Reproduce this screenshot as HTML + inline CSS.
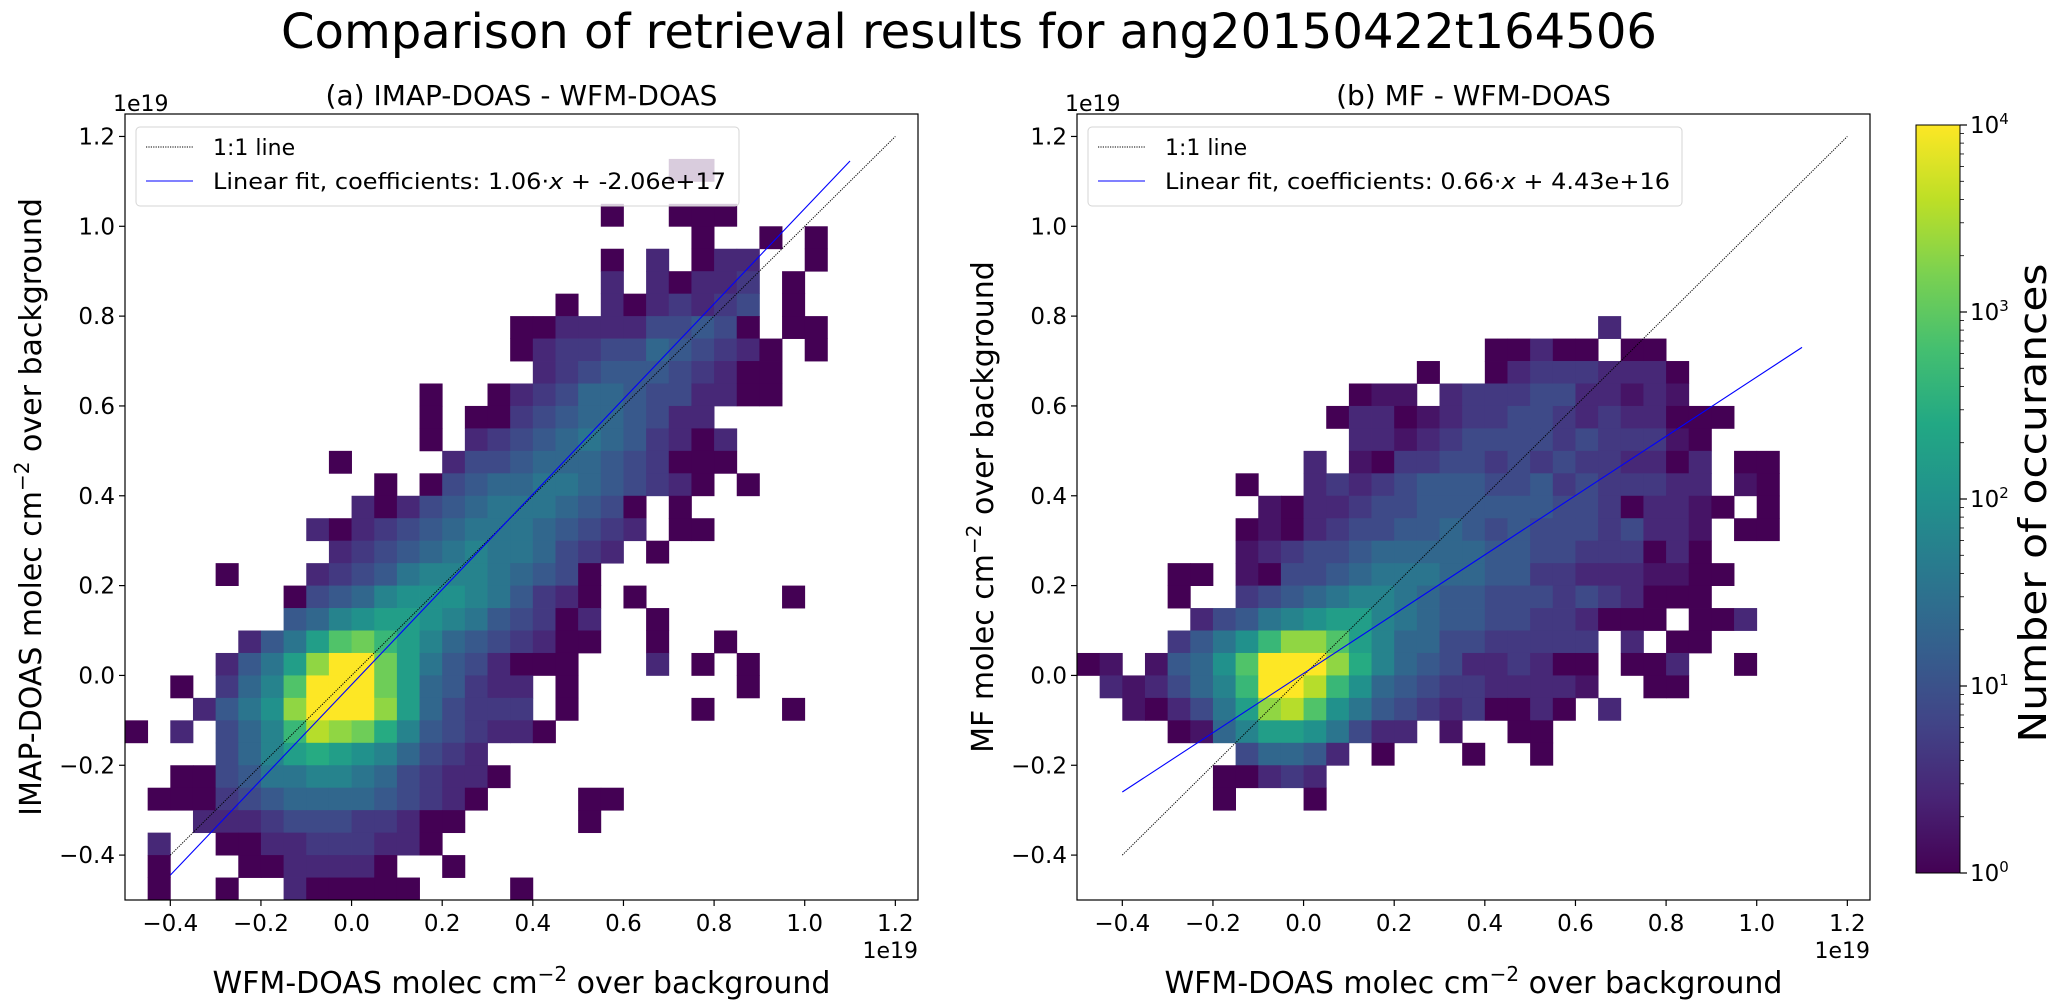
<!DOCTYPE html>
<html><head><meta charset="utf-8"><style>
html,body{margin:0;padding:0;background:#fff;}
svg{display:block;font-family:"DejaVu Sans","Liberation Sans",sans-serif;}
</style></head><body>
<svg id="fig" width="2067" height="1008" viewBox="0 0 2067 1008" xmlns="http://www.w3.org/2000/svg">
<defs>
<linearGradient id="vir" x1="0" y1="1" x2="0" y2="0">
<stop offset="0" stop-color="#440154"/><stop offset="0.1" stop-color="#482475"/><stop offset="0.2" stop-color="#414487"/><stop offset="0.3" stop-color="#355f8d"/><stop offset="0.4" stop-color="#2a788e"/><stop offset="0.5" stop-color="#21918c"/><stop offset="0.6" stop-color="#22a884"/><stop offset="0.7" stop-color="#44bf70"/><stop offset="0.8" stop-color="#7ad151"/><stop offset="0.9" stop-color="#bddf26"/><stop offset="1" stop-color="#fde725"/>
</linearGradient>
</defs>
<text x="969" y="48" font-size="48" text-anchor="middle" textLength="1376" lengthAdjust="spacingAndGlyphs">Comparison of retrieval results for ang20150422t164506</text>
<g id="plots"></g>
<g id="cbar">
<rect x="1916" y="125" width="44" height="748" fill="url(#vir)" stroke="#000" stroke-width="1"/>
</g>
<text transform="translate(2046,503) rotate(-90)" font-size="38" text-anchor="middle" textLength="479" lengthAdjust="spacingAndGlyphs">Number of occurances</text>
</svg>
<script>
// ---------- data ----------
const xTicks = [-0.4,-0.2,0.0,0.2,0.4,0.6,0.8,1.0,1.2];
const yTicks = [-0.4,-0.2,0.0,0.2,0.4,0.6,0.8,1.0,1.2];
const cbarTicks = [0,1,2,3,4];
const binWidth = 0.05;
const binOrigin = -0.5;
// rows top (1.25) to bottom (-0.5); "col:level" where log10(count)=level*4/9
const gridA = [
"","","24:0 25:0","",
"21:0 24:0 25:0 26:0",
"25:0 28:0 30:0",
"21:0 23:1 25:0 26:1 27:1 30:0",
"21:1 23:1 24:0 25:1 26:1 27:1.5 29:0",
"19:0 21:1 22:0 23:1 24:1.5 25:1 26:1.5 27:2 29:0",
"17:0 18:0 19:1 20:1 21:1 22:1 23:2 24:2 25:2.5 26:2 27:0 29:0 30:0",
"17:0 18:1 19:1.5 20:1.5 21:2 22:2 23:3 24:2.5 25:2 26:1.5 27:1 28:0 30:0",
"18:1 19:1.5 20:2 21:2.5 22:2.5 23:2.5 24:2 25:1.5 26:1 27:0 28:0",
"13:0 16:0 17:1 18:1.5 19:2 20:3 21:3 22:2.5 23:2 24:2 25:1 26:1 27:0 28:0",
"13:0 15:0 16:0 17:1.5 18:2 19:2.5 20:3 21:3 22:2.5 23:2 24:1 25:1",
"13:0 15:1 16:1.5 17:2 18:2.5 19:3 20:3.5 21:3 22:2.5 23:1.5 24:1 25:0 26:1",
"9:0 14:1 15:2 16:2 17:2.5 18:3 19:3 20:3 21:2.5 22:2 23:1.5 24:0 25:0 26:0",
"11:0 13:0 14:2 15:2.5 16:3 17:3 18:3.5 19:3.5 20:3 21:2.5 22:2 23:1.5 24:1 25:0 27:0",
"10:1 11:0 12:1 13:2 14:2.5 15:3 16:3.5 17:3.5 18:3.5 19:3 20:2.5 21:2 22:0 24:0",
"8:1 9:0 10:1 11:1.5 12:2 13:2.5 14:3 15:3.5 16:3.5 17:3.5 18:3 19:2.5 20:2 21:1.5 22:1 24:0 25:0",
"9:1 10:1.5 11:2 12:2.5 13:3 14:3.5 15:4 16:3.5 17:3.5 18:3 19:2 20:1.5 21:1 23:0",
"4:0 8:1 9:1.5 10:2 11:2.5 12:3.5 13:4 14:4 15:4 16:3.5 17:3 18:2.5 19:2 20:0",
"7:0 8:2 9:2.5 10:3 11:4 12:4.5 13:4.5 14:4.5 15:4 16:3.5 17:2.5 18:1.5 19:1 20:0 22:0 29:0",
"7:2.5 8:3 9:4 10:4.5 11:5 12:5 13:4.5 14:4 15:3.5 16:2.5 17:2 18:1.5 19:0 20:1 23:0",
"5:1 6:2.5 7:3.5 8:5 9:6.5 10:7 11:6 12:5 13:4 14:3 15:2.5 16:2 17:1.5 18:1 19:0 20:0 23:0 26:0",
"4:1 5:2.5 6:3.5 7:5 8:7.5 9:9 10:9 11:7 12:5 13:3.5 14:2.5 15:2 16:1 17:0 18:0 19:0 23:1 25:0 27:0",
"2:0 4:1.5 5:3 6:4 7:6.5 8:9 9:9 10:9 11:7 12:5 13:3 14:2.5 15:1.5 16:1 17:1 19:0 27:0",
"3:1 4:2.5 5:3.5 6:4.5 7:7.5 8:9 9:9 10:9 11:7.5 12:5 13:3 14:2 15:1.5 16:1.5 17:1.5 19:0 25:0 29:0",
"0:0 2:1 4:2 5:3 6:4 7:6 8:8 9:7.5 10:7 11:5.5 12:4 13:2.5 14:2 15:1.5 16:1 17:1 18:0",
"4:2 5:3 6:4 7:5 8:5.5 9:5 10:4.5 11:4 12:3 13:2 14:1.5 15:1",
"2:0 3:0 4:2 5:2.5 6:3.5 7:3.5 8:4 9:4 10:3.5 11:3 12:2 13:1.5 14:1 15:1 16:0",
"1:0 2:0 3:0 4:1.5 5:2 6:2.5 7:3 8:3 9:3 10:3 11:2.5 12:2 13:1.5 14:1 15:0 20:0 21:0",
"3:1 4:1 5:1 6:1.5 7:2 8:2 9:2 10:1.5 11:1.5 12:1 13:0 14:0 20:0",
"1:1 4:0 5:0 6:1 7:1 8:1.5 9:1.5 10:1.5 11:1 12:1 13:0",
"1:0 5:0 6:0 7:1 8:1 9:1 10:1 11:0 14:0",
"1:0 4:0 7:1 8:0 9:0 10:0 11:0 12:0 17:0"
];
const gridB = [
"","","","","","","","","",
"23:1",
"18:0 19:0 20:1 21:0 22:0 24:0 25:0",
"15:0 18:0 19:1 20:1.5 21:1.5 22:1.5 23:1 24:1 25:1 26:0",
"12:0 13:0.5 14:0.5 16:1 17:1.5 18:1.5 19:1.5 20:2 21:2 22:1 23:1 24:0.5 25:1 26:0.5",
"11:0 12:1 13:1 14:0 15:0.5 16:1 17:1.5 18:1.5 19:2 20:2 21:1.5 22:1 23:1.5 24:1 25:1 26:0 27:0 28:0",
"12:1 13:1 14:0.5 15:1 16:1.5 17:2 18:2 19:2 20:2 21:1.5 22:2 23:1.5 24:1.5 25:1.5 26:0.5 27:0",
"10:1 12:0.5 13:0 14:1.5 15:1.5 16:2 17:2 18:1.5 19:2 20:1.5 21:2 22:1.5 23:1.5 24:1 25:1 26:0 27:1 29:0 30:0",
"7:0 10:1 11:1.5 12:1 13:1.5 14:2 15:2.5 16:2.5 17:2.5 18:2 19:2 20:2.5 21:1.5 22:2 23:1.5 24:1.5 25:1.5 26:1 27:1 29:0.5 30:0",
"8:0.5 9:0 10:1 11:1 12:1.5 13:2 14:2 15:2.5 16:2.5 17:2.5 18:2.5 19:2.5 20:2.5 21:2 22:2 23:1.5 24:0 25:1 26:1 27:0.5 28:0 30:0",
"7:0 8:0.5 9:0 10:1 11:1.5 12:2 13:2 14:2.5 15:2.5 16:3 17:2.5 18:2 19:2.5 20:2 21:2 22:2 23:1.5 24:2 25:1 26:1 27:0.5 29:0 30:0",
"7:0.5 8:1 9:1.5 10:2 11:2 12:2.5 13:3 14:3 15:3 16:3 17:3 18:2.5 19:2.5 20:2 21:2 22:1.5 23:1.5 24:1.5 25:0 26:1 27:0",
"4:0 5:0 7:0.5 8:0 9:2 10:2 11:2.5 12:3 13:3.5 14:3.5 15:3.5 16:3 17:3 18:2.5 19:2.5 20:1.5 21:1.5 22:1 23:1 24:1 25:0.5 26:0.5 27:0 28:0",
"4:0 7:1.5 8:2 9:2.5 10:3 11:3.5 12:4 13:4 14:3.5 15:3 16:2.5 17:2.5 18:2 19:2 20:2 21:1.5 22:2 23:1.5 24:1 25:0 26:0 27:0",
"5:1 6:2 7:2.5 8:3.5 9:4 10:4.5 11:5 12:5 13:4 14:3.5 15:3 16:2.5 17:2.5 18:2 19:2 20:1.5 21:1.5 22:1 23:0 24:0 25:0 27:0 28:0 29:1",
"4:1.5 5:2.5 6:3.5 7:4.5 8:6 9:7.5 10:7.5 11:6.5 12:5 13:4 14:3 15:3 16:2 17:2 18:1.5 19:1.5 20:1.5 21:1.5 22:1.5 24:1 26:0 27:0",
"0:0 1:0.5 3:0.5 4:2.5 5:3 6:4.5 7:6.5 8:9 9:9 10:9 11:7.5 12:5.5 13:4 14:3 15:2.5 16:2 17:1 18:1 19:1.5 20:1 21:0 22:0 24:0 25:0 26:1 29:0",
"1:1 2:0.5 3:1 4:2 5:3 6:4 7:6 8:9 9:9 10:8 11:6 12:4.5 13:3 14:2.5 15:2 16:1.5 17:1.5 18:1 19:1 20:1 21:1 22:0.5 25:0 26:0",
"2:0.5 3:0 4:1 5:2 6:3.5 7:5 8:7.5 9:8 10:6.5 11:4.5 12:3.5 13:2.5 14:2 15:1.5 16:1 17:1.5 18:0 19:0 20:1 21:0 23:1",
"4:0 5:0.5 6:3 7:4 8:5 9:5 10:4.5 11:3.5 12:2 13:1 14:1 16:0.5 19:0 20:0",
"7:2 8:3 9:3 10:2.5 11:1 13:0 17:0 20:0",
"6:0 7:0 8:1 9:1.5 10:1",
"6:0 10:0"
];
const fitA = {slope:1.06, intercept:-0.0206};
const fitB = {slope:0.66, intercept:0.00443};
const lineRange = [-0.4, 1.2];
const fitRange = [-0.4, 1.1];

// ---------- helpers ----------
const NS = "http://www.w3.org/2000/svg";
const VIR = ["#440154","#482475","#414487","#355f8d","#2a788e","#21918c","#22a884","#44bf70","#7ad151","#bddf26","#fde725"];
function hex(h){return [parseInt(h.slice(1,3),16),parseInt(h.slice(3,5),16),parseInt(h.slice(5,7),16)];}
function viridis(t){t=Math.max(0,Math.min(1,t));const s=t*10,i=Math.min(9,Math.floor(s)),f=s-i;const a=hex(VIR[i]),b=hex(VIR[i+1]);
 return "rgb("+a.map((v,k)=>Math.round(v+(b[k]-v)*f)).join(",")+")";}
function mk(tag,attrs,parent){const e=document.createElementNS(NS,tag);for(const k in attrs)e.setAttribute(k,attrs[k]);parent.appendChild(e);return e;}
function fmt(v){const s=v.toFixed(1);return v<0?"\u2212"+s.slice(1):s;}

const plots = document.getElementById("plots");
function drawPlot(cfg){
 const {x0,y0,w,h,grid,fit,ylabel,title,legendText,legendBox,id} = cfg;
 const X = v => x0 + (v+0.5)/1.75*w;
 const Y = v => y0 + (1.25-v)/1.75*h;
 const g = mk("g",{},plots);
 
 
 const cl = mk("clipPath",{id:id+"clip"},g); mk("rect",{x:x0,y:y0,width:w,height:h},cl);
 const cells = mk("g",{"clip-path":"url(#"+id+"clip)"},g);
 
 
 grid.forEach((row,r)=>{
  if(!row) return;
  row.split(" ").forEach(p=>{
   const [c,l]=p.split(":").map(Number);
   const count=Math.pow(10,l*4/9);
   const xa=binOrigin+c*binWidth, yt=1.25-r*binWidth;
   const rc=mk("rect",{x:X(xa).toFixed(2),y:Y(yt).toFixed(2),width:(X(xa+binWidth)-X(xa)+0.4).toFixed(2),height:(Y(yt-binWidth)-Y(yt)+0.4).toFixed(2),fill:viridis(Math.log10(count)/4)},cells);
   
   
  });
 });
 const l1=mk("line",{x1:X(lineRange[0]),y1:Y(lineRange[0]),x2:X(lineRange[1]),y2:Y(lineRange[1]),stroke:"#000","stroke-width":1,"stroke-dasharray":"1.2,1.2"},g);
 
 
 const f=x=>fit.slope*x+fit.intercept;
 const l2=mk("line",{x1:X(fitRange[0]),y1:Y(f(fitRange[0])),x2:X(fitRange[1]),y2:Y(f(fitRange[1])),stroke:"#0000ff","stroke-width":1.1},g);
 
 
 const fr=mk("rect",{x:x0,y:y0,width:w,height:h,fill:"none",stroke:"#000","stroke-width":1.2},g);
 
 
 xTicks.forEach(v=>{
  mk("line",{x1:X(v),y1:y0+h,x2:X(v),y2:y0+h+6,stroke:"#000","stroke-width":1.2},g);
  const t=mk("text",{x:X(v),y:y0+h+31,"font-size":23,"text-anchor":"middle"},g); t.textContent=fmt(v);
  
  
 });
 yTicks.forEach(v=>{
  mk("line",{x1:x0,y1:Y(v),x2:x0-6,y2:Y(v),stroke:"#000","stroke-width":1.2},g);
  const t=mk("text",{x:x0-10,y:Y(v)+8,"font-size":23,"text-anchor":"end"},g); t.textContent=fmt(v);
  
  
 });
 const e1=mk("text",{x:x0-12,y:y0-3,"font-size":22},g); e1.textContent="1e19";
 
 
 const e2=mk("text",{x:x0+w,y:y0+h+58,"font-size":22,"text-anchor":"end"},g); e2.textContent="1e19";
 
 
 const tt=mk("text",{x:x0+w/2,y:105,"font-size":28,"text-anchor":"middle"},g); tt.textContent=title;
 
 
 const xl=mk("text",{x:x0+w/2,y:993,"font-size":30,"text-anchor":"middle"},g);
 xl.innerHTML='WFM-DOAS molec cm<tspan baseline-shift="super" font-size="20">\u22122</tspan> over background';
 
 
 const yl=mk("text",{transform:"translate("+(x0-84)+","+(y0+h/2)+") rotate(-90)","font-size":30,"text-anchor":"middle"},g);
 yl.innerHTML=ylabel+' molec cm<tspan baseline-shift="super" font-size="20">\u22122</tspan> over background';
 
 
 const lg=mk("g",{},g);
 
 
 mk("rect",{x:legendBox[0],y:127,width:legendBox[1]-legendBox[0],height:79,rx:4,fill:"rgba(255,255,255,0.8)",stroke:"#d5d5d5","stroke-width":1},lg);
 mk("line",{x1:legendBox[0]+10,y1:147,x2:legendBox[0]+57,y2:147,stroke:"#000","stroke-width":1,"stroke-dasharray":"1.2,1.2"},lg);
 mk("line",{x1:legendBox[0]+10,y1:181,x2:legendBox[0]+57,y2:181,stroke:"#0000ff","stroke-width":1.1},lg);
 const a1=mk("text",{x:legendBox[0]+77,y:155,"font-size":22},lg); a1.textContent="1:1 line";
 
 
 const a2=mk("text",{x:legendBox[0]+77,y:189,"font-size":22,textLength:legendText[1],lengthAdjust:"spacingAndGlyphs"},lg);
 a2.innerHTML=legendText[0];
 
 
}
drawPlot({id:"plot-a",x0:125,y0:114,w:793,h:786,grid:gridA,fit:fitA,ylabel:"IMAP-DOAS",title:"(a) IMAP-DOAS - WFM-DOAS",
 legendText:['Linear fit, coefficients: 1.06\u00b7<tspan font-style="italic">x</tspan> + -2.06e+17',513],legendBox:[136,739]});
drawPlot({id:"plot-b",x0:1077,y0:114,w:793,h:786,grid:gridB,fit:fitB,ylabel:"MF",title:"(b) MF - WFM-DOAS",
 legendText:['Linear fit, coefficients: 0.66\u00b7<tspan font-style="italic">x</tspan> + 4.43e+16',505],legendBox:[1088,1682]});

const cb=document.getElementById("cbar");
const CY=v=>873-v/4*748;
cbarTicks.forEach(k=>{
 mk("line",{x1:1960,y1:CY(k),x2:1967,y2:CY(k),stroke:"#000","stroke-width":1.2},cb);
 const t=mk("text",{x:1970,y:CY(k)+8,"font-size":23},cb);
 t.innerHTML='10<tspan baseline-shift="super" font-size="15">'+k+'</tspan>';
 
 
 if(k<4) for(let m=2;m<10;m++) mk("line",{x1:1960,y1:CY(k+Math.log10(m)),x2:1964,y2:CY(k+Math.log10(m)),stroke:"#000","stroke-width":0.8},cb);
});
</script>
</body></html>
